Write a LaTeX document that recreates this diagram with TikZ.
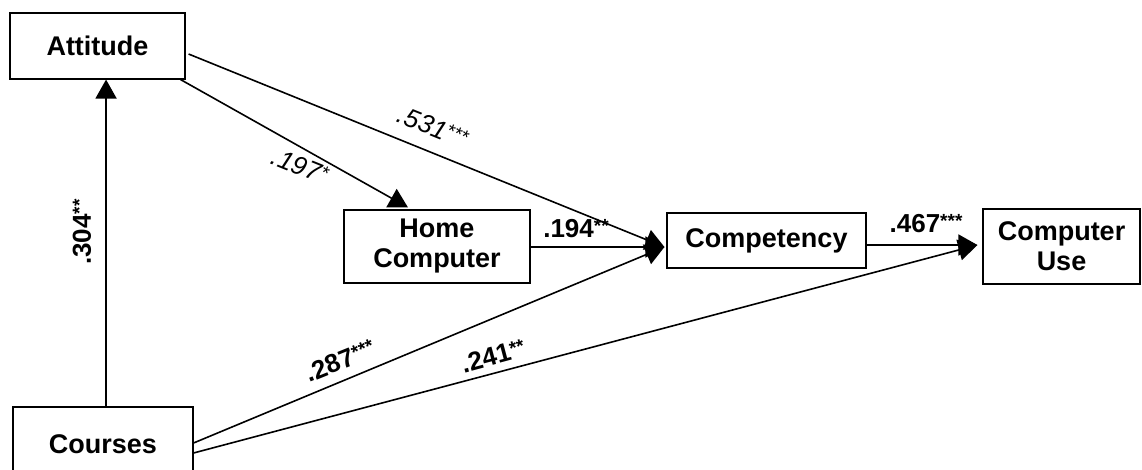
\documentclass[tikz,border=0pt]{standalone}
\usepackage{fontspec}
\setmainfont{Liberation Sans}
\usetikzlibrary{arrows.meta}

% raised, smaller significance stars
\newcommand\coefstars[1]{\raisebox{5pt}{\fontsize{19}{19}\selectfont #1}}

\begin{document}
\begin{tikzpicture}[x=1pt,y=-1pt,
  box/.style={draw, line width=1.1pt, inner sep=0pt, align=center,
              font=\bfseries\fontsize{27}{30}\selectfont},
  link/.style={line width=1.6pt, -{Triangle[length=19pt,width=21pt]}},
  coef/.style={inner sep=0pt, font=\bfseries\fontsize{26}{28}\selectfont},
  coefit/.style={inner sep=0pt, font=\itshape\fontsize{26}{28}\selectfont},
]
\clip (0,0) rectangle (1142,469);
\fill[white] (0,0) rectangle (1142,469);

% variables
\node[box, minimum width=175pt, minimum height=66pt] (att)  at (97.5,46)  {Attitude};
\node[box, minimum width=186pt, minimum height=73pt] (hc)   at (437,246.5) {Home\\Computer};
\node[box, minimum width=199pt, minimum height=55pt] (comp) at (766.5,240.5) {Competency};
\node[box, minimum width=157pt, minimum height=75pt] (cu)   at (1061.5,246.5) {Computer\\Use};
\node[box, minimum width=180pt, minimum height=74pt] (crs)  at (103,444) {Courses};

% entry and exit points on the boxes
\coordinate (attup)   at ([xshift=-87.5pt]crs.north east);
\coordinate (crsa)    at ([yshift=1pt]crs.east);
\coordinate (crsb)    at ([yshift=-9pt]crs.east);
\coordinate (compin)  at ([xshift=-2pt,yshift=-6.5pt]comp.west);
\coordinate (cuin)    at ([xshift=-5pt,yshift=1.5pt]cu.west);
\coordinate (hctop)   at ([xshift=-29pt,yshift=2pt]hc.north);

% paths
\draw[link] (crs.north -| attup) -- (att.south -| attup);
\draw[link] ([xshift=-5pt]att.south east) -- (hctop);
\draw[link] ([xshift=3pt,yshift=-8pt]att.east) -- (compin);
\draw[link] (hc.east |- compin) -- (compin);
\draw[link] (crsa) -- (compin);
\draw[link] (crsb) -- (cuin);
\draw[link] (comp.east |- cuin) -- (cuin);

% path coefficients
\node[coef, rotate=90] (c304) at (82,232) {.304\coefstars{**}};
\node[coefit, rotate=-22] (c197) at (300,166) {.197\coefstars{*}};
\node[coefit, rotate=-22] (c531) at (433,127) {.531\coefstars{***}};
\node[coef] (c194) at (576,229) {.194\coefstars{**}};
\node[coef] (c467) at (926,224) {.467\coefstars{***}};
\node[coef, rotate=22] (c287) at (340,361) {.287\coefstars{***}};
\node[coef, rotate=15] (c241) at (493,356) {.241\coefstars{**}};
\end{tikzpicture}
\end{document}
